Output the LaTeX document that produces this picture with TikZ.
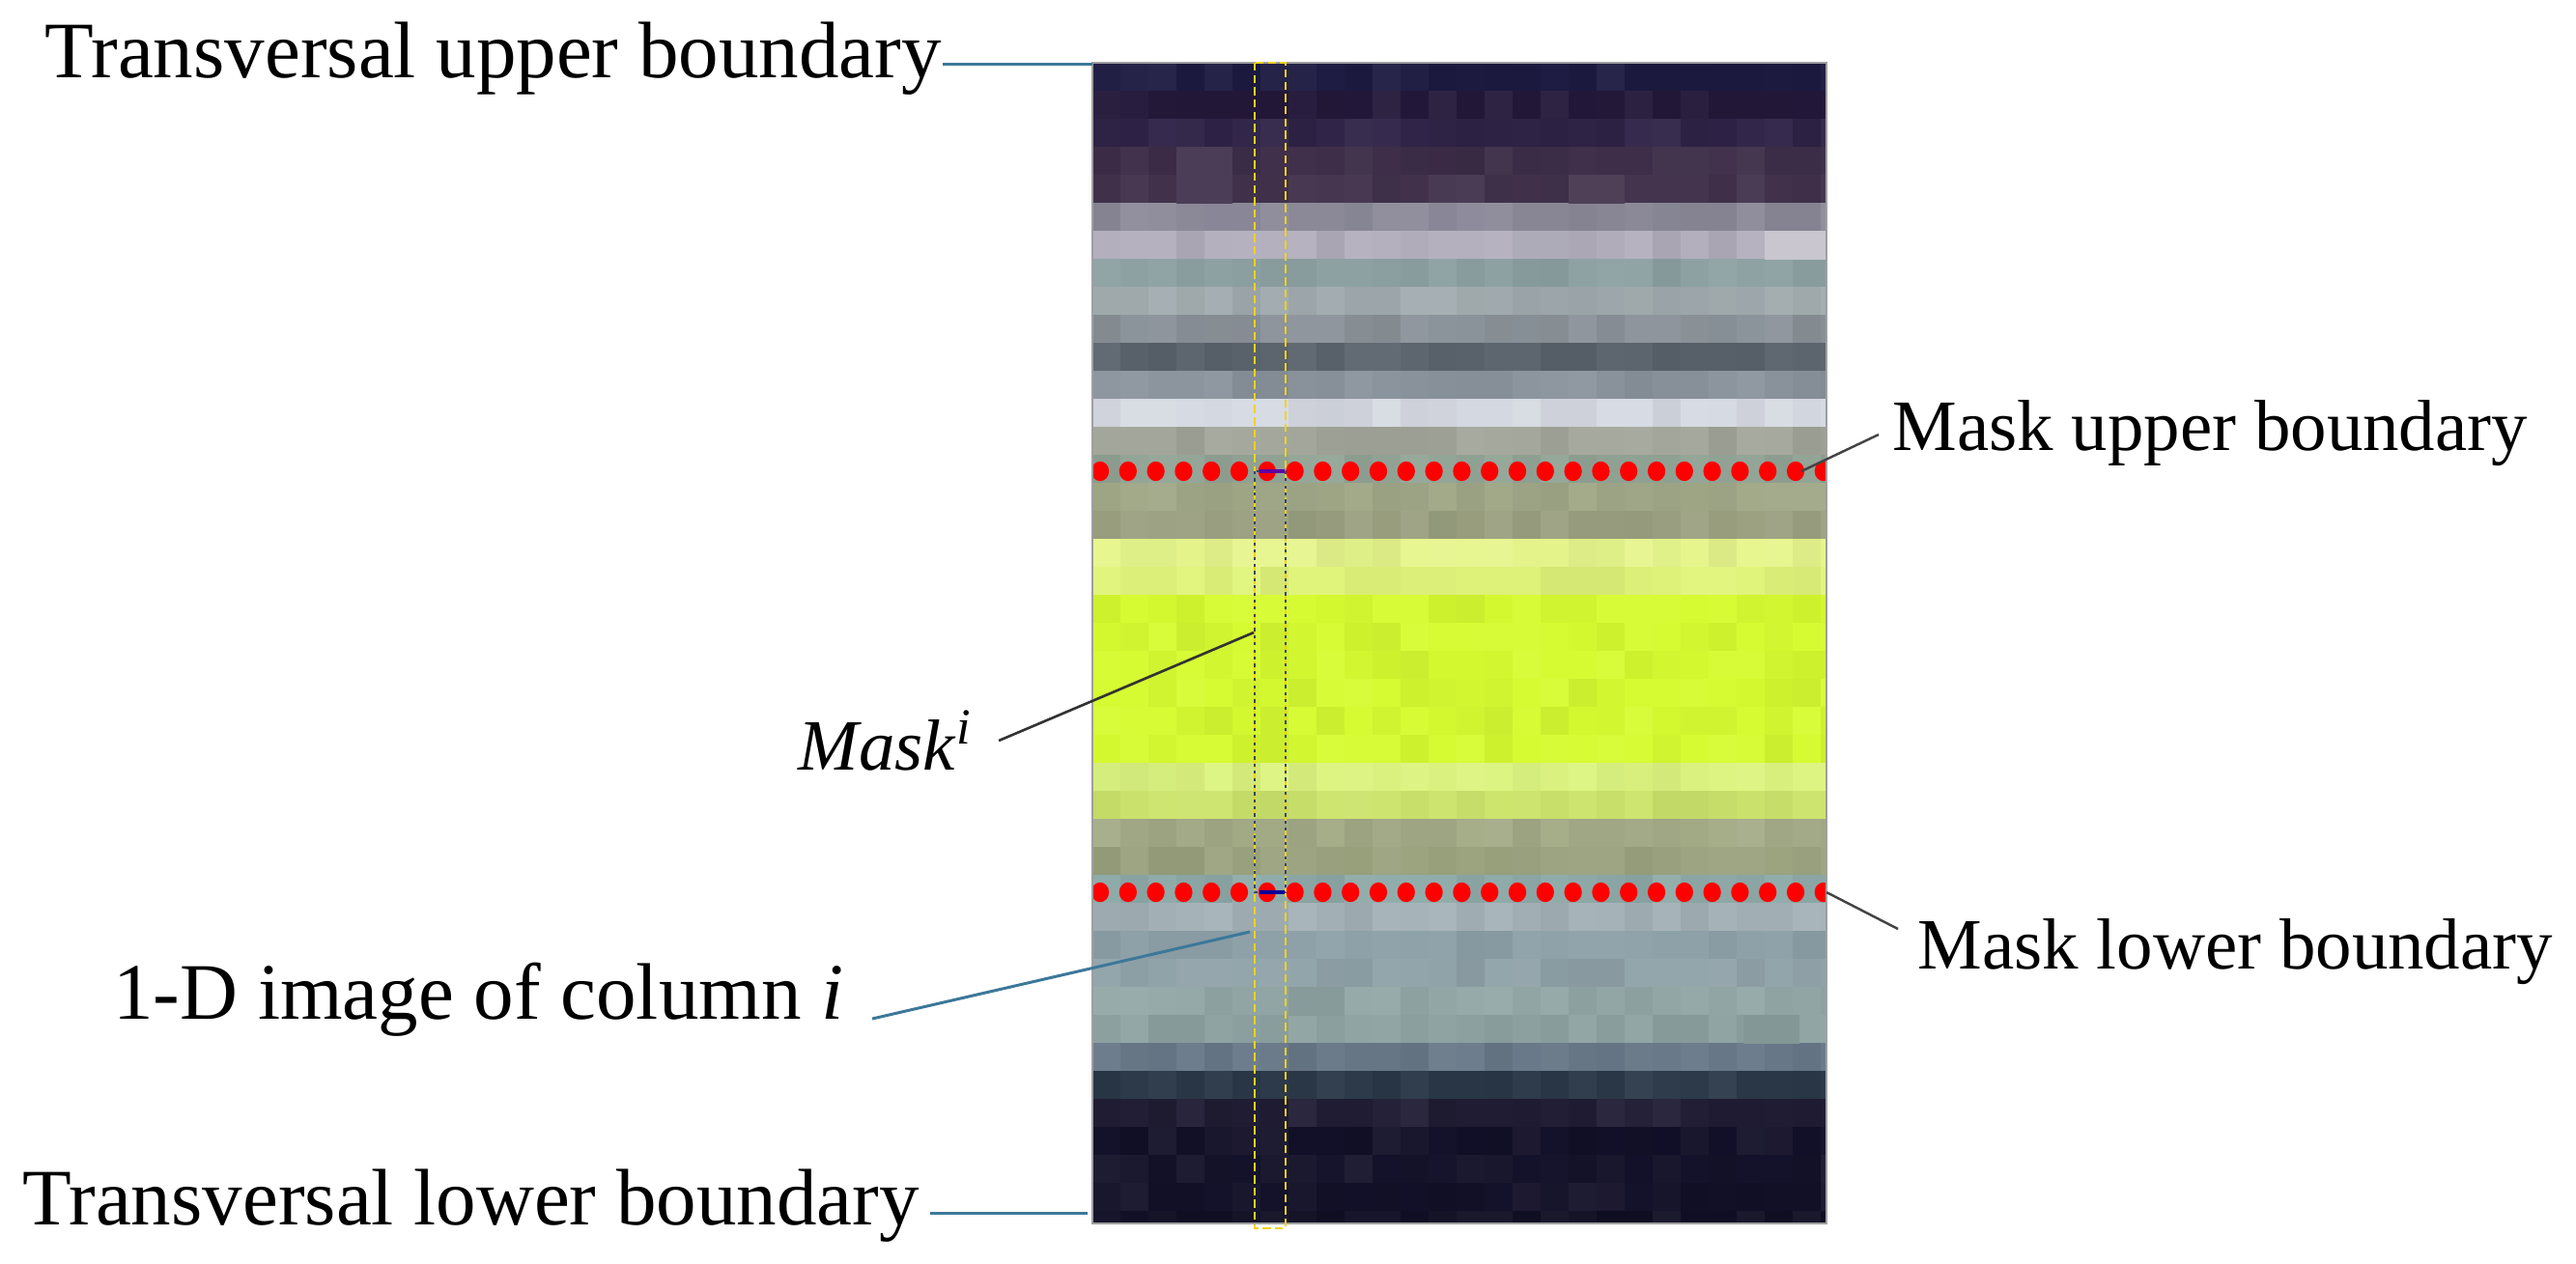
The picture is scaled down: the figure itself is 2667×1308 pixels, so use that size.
\documentclass[tikz,border=0pt]{standalone}
\usepackage{fontspec}
\setmainfont{Liberation Serif}
\definecolor{r0}{HTML}{1C1A40}
\definecolor{r1}{HTML}{24183A}
\definecolor{r2}{HTML}{2E2246}
\definecolor{r3}{HTML}{3C2C48}
\definecolor{r4}{HTML}{42324C}
\definecolor{r5}{HTML}{8C8A9A}
\definecolor{r6}{HTML}{B2AEBC}
\definecolor{r7}{HTML}{8CA0A2}
\definecolor{r8}{HTML}{A2ACB0}
\definecolor{r9}{HTML}{8A9299}
\definecolor{r10}{HTML}{5A636C}
\definecolor{r11}{HTML}{8A939C}
\definecolor{r12}{HTML}{D6DAE2}
\definecolor{r13}{HTML}{A2A69A}
\definecolor{r14}{HTML}{92A496}
\definecolor{r15}{HTML}{A0A888}
\definecolor{r16}{HTML}{9AA080}
\definecolor{r17}{HTML}{E6F68C}
\definecolor{r18}{HTML}{E0F47A}
\definecolor{r19}{HTML}{D6FB30}
\definecolor{r20}{HTML}{D6FB30}
\definecolor{r21}{HTML}{D6FB30}
\definecolor{r22}{HTML}{D6FB30}
\definecolor{r23}{HTML}{D6FB30}
\definecolor{r24}{HTML}{D6FB30}
\definecolor{r25}{HTML}{DCF480}
\definecolor{r26}{HTML}{CCE46C}
\definecolor{r27}{HTML}{A4AC88}
\definecolor{r28}{HTML}{9AA27E}
\definecolor{r29}{HTML}{8EAAA8}
\definecolor{r30}{HTML}{A4B2B8}
\definecolor{r31}{HTML}{8DA0A8}
\definecolor{r32}{HTML}{8FA2A8}
\definecolor{r33}{HTML}{94A8A8}
\definecolor{r34}{HTML}{8EA2A2}
\definecolor{r35}{HTML}{687888}
\definecolor{r36}{HTML}{2A3848}
\definecolor{r37}{HTML}{201C34}
\definecolor{r38}{HTML}{121028}
\definecolor{r39}{HTML}{14122A}
\definecolor{r40}{HTML}{121028}
\definecolor{r41}{HTML}{100E24}
\definecolor{steel}{HTML}{3C7899}
\definecolor{leader}{HTML}{444444}
\definecolor{gold}{HTML}{F2D21A}
\definecolor{maskline}{HTML}{3A4660}
\begin{document}
\begin{tikzpicture}[x=0.01cm,y=-0.01cm,
  bigtext/.style={inner sep=0pt, font=\fontsize{23.6}{28}\selectfont},
  midtext/.style={inner sep=0pt, font=\fontsize{21.3}{26}\selectfont},
  blueline/.style={draw=steel, line width=0.85pt},
  grayline/.style={draw=leader, line width=0.7pt},
  darkline/.style={draw=black!80, line width=0.75pt},
  ydash/.style={draw=gold, line width=0.8pt, dash pattern=on 2.4pt off 1.2pt},
  maskdots/.style={draw=maskline, line width=0.8pt, dash pattern=on 0.9pt off 1.2pt},
  reddot/.style={fill=red}]
\useasboundingbox[fill=white] (0,0) rectangle (2667,1308);
% pixel image
\pgfmathsetseed{11}
\begin{scope}
\clip (1131,65) rectangle (1891,1267);
\foreach \r in {0,...,41}{
  \foreach \c in {0,...,26}{
    \pgfmathtruncatemacro\m{95+5*rnd}
    \pgfmathtruncatemacro\t{2*rnd}
    \ifnum\t=0 \def\tone{black}\else\def\tone{white}\fi
    \fill[r\r!\m!\tone] (1131+29*\c,65+29*\r) rectangle ++(29.6,29.6);
  }
}
% a few distinctive cells
\fill[r6!70!white] (1827,239) rectangle (1891,268.5);
\fill[r3!92!white] (1218,152) rectangle (1276,210.5);
\fill[r4!93!white] (1624,181) rectangle (1682,210.5);
\fill[r33!92!black] (1334,1022) rectangle (1392,1051.5);
\fill[r34!93!black] (1805,1051) rectangle (1863,1080.5);
\foreach \k in {0,...,26}{
  \fill[reddot] (1139+28.8*\k,488) ellipse[x radius=2.6pt, y radius=2.9pt];
  \fill[reddot] (1139+28.8*\k,924) ellipse[x radius=2.6pt, y radius=2.9pt];
}
\end{scope}
\draw[gray!75, line width=0.7pt] (1131,65) rectangle (1891,1267);
% column i and mask
\draw[ydash] (1299,65) rectangle (1331,1272);
\draw[maskdots] (1299,488) rectangle (1331,924);
\draw[blue!60!black, line width=0.9pt] (1304,924) -- (1330,924);
\draw[blue!50!purple, line width=0.9pt] (1304,488) -- (1330,488);
% labels
\node[bigtext, anchor=base west] (tu) at (46,80) {Transversal upper boundary};
\node[bigtext, anchor=base west] (tl) at (23,1268) {Transversal lower boundary};
\node[midtext, anchor=base west] (mu) at (1959,466) {Mask upper boundary};
\node[midtext, anchor=base west] (ml) at (1985,1003) {Mask lower boundary};
\node[midtext, anchor=base west] (mi) at (826,797) {\textit{Mask}\textsuperscript{\textit{i}}};
\node[bigtext, anchor=base east] (col) at (874,1055) {1-D image of column \textit{i}};
% connector ends
\coordinate (imgTL) at (1131,66);
\coordinate (imgBL) at (1126,1256);
\coordinate (muEnd) at (1865,488);
\coordinate (mlEnd) at (1891,924);
\coordinate (miEnd) at (1298,655);
\coordinate (colEnd) at (1294,965);
% connectors
\draw[blueline] (tu.east |- imgTL) -- (imgTL);
\draw[blueline] ([xshift=3pt]tl.east |- imgBL) -- (imgBL);
\draw[grayline] (mu.base west) ++(-14,-16) -- (muEnd);
\draw[grayline] (ml.base west) ++(-20,-41) -- (mlEnd);
\draw[darkline] (mi.base east) ++(27,-30) -- (miEnd);
\draw[blueline] (col.base east) ++(29,0) -- (colEnd);
\end{tikzpicture}
\end{document}
